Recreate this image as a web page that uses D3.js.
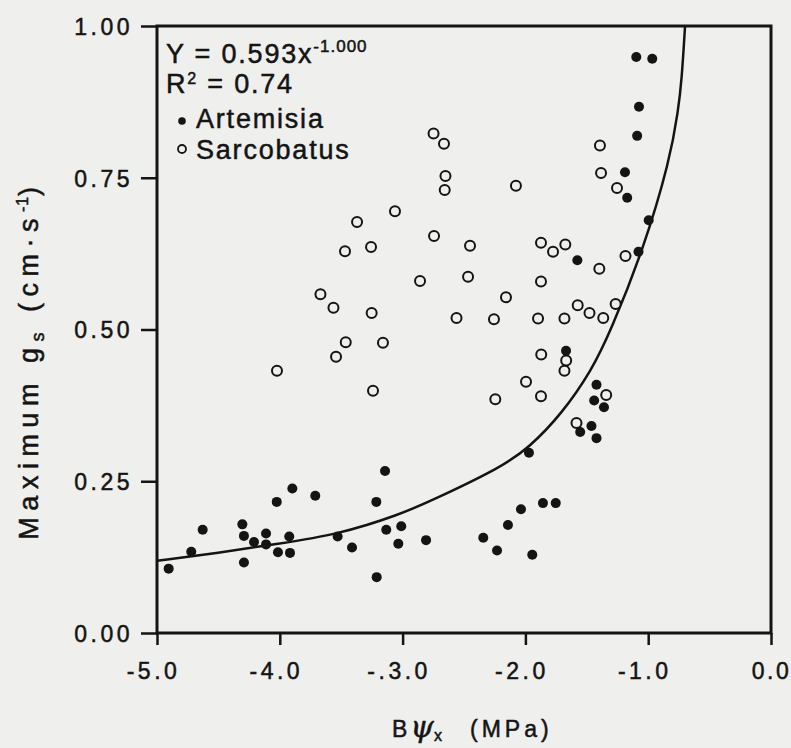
<!DOCTYPE html>
<html>
<head>
<meta charset="utf-8">
<script src="https://cdn.jsdelivr.net/npm/d3@7"></script>
<style>
  body { margin: 0; background: #efefed; }
  svg { display: block; font-family: "Liberation Sans", Arial, Helvetica, sans-serif; }
</style>
</head>
<body>
<div id="chart"></div>
<script>
// Artemisia (filled dots)
var artemisiaX = [-1.097, -0.967, -1.075, -1.090, -1.189, -1.171, -0.996, -1.079, -1.577, -1.669,
  -1.421, -1.440, -1.360, -1.462, -1.554, -1.421, -1.971, -2.036, -1.857, -1.753,
  -2.142, -2.343, -2.231, -1.944, -4.905, -4.721, -4.628, -4.305, -4.292, -4.292,
  -4.210, -4.112, -4.112, -4.025, -4.015, -3.923, -3.917, -3.898, -3.711, -3.529,
  -3.412, -3.214, -3.143, -3.133, -3.011, -3.035, -3.211, -2.809];
var artemisiaY = [0.949, 0.946, 0.867, 0.819, 0.759, 0.717, 0.680, 0.628, 0.614, 0.465,
  0.409, 0.383, 0.372, 0.341, 0.331, 0.321, 0.297, 0.204, 0.214, 0.214,
  0.178, 0.157, 0.136, 0.129, 0.106, 0.134, 0.170, 0.179, 0.160, 0.116,
  0.150, 0.164, 0.146, 0.216, 0.133, 0.159, 0.132, 0.238, 0.226, 0.159,
  0.141, 0.216, 0.267, 0.170, 0.176, 0.147, 0.092, 0.153];

// Sarcobatus (open circles)
var sarcobatusX = [-3.062, -3.371, -3.469, -3.257, -2.858, -3.669, -3.563, -3.252, -3.463, -3.160,
  -3.542, -4.023, -3.241, -2.748, -2.663, -2.651, -2.657, -2.077, -1.393, -1.384,
  -1.254, -2.744, -2.451, -2.467, -1.873, -1.775, -1.675, -1.398, -1.185, -1.873,
  -2.158, -2.561, -2.256, -1.897, -1.682, -1.574, -1.478, -1.366, -1.265, -1.871,
  -1.668, -1.682, -1.995, -2.245, -1.873, -1.342, -1.584];
var sarcobatusY = [0.695, 0.677, 0.629, 0.636, 0.580, 0.558, 0.536, 0.527, 0.479, 0.478,
  0.455, 0.432, 0.399, 0.823, 0.806, 0.753, 0.730, 0.737, 0.803, 0.758,
  0.733, 0.654, 0.638, 0.587, 0.643, 0.628, 0.640, 0.600, 0.621, 0.579,
  0.553, 0.519, 0.517, 0.518, 0.518, 0.540, 0.527, 0.519, 0.542, 0.459,
  0.449, 0.432, 0.414, 0.385, 0.390, 0.392, 0.346];

// fitted curve, points
var fitX = [-5.0, -4.5, -4.017, -3.532, -3.021, -2.722, -2.207, -1.971, -1.700, -1.460, -1.311, -1.040, -0.822, -0.755, -0.727, -0.700];
var fitY = [0.119, 0.132, 0.147, 0.162, 0.195, 0.222, 0.272, 0.305, 0.362, 0.433, 0.495, 0.631, 0.780, 0.862, 0.911, 1.0];

var xTicks = [-5, -4, -3, -2, -1, 0];
var xTickLabels = ["-5.0", "-4.0", "-.3.0", "-2.0", "-1.0", "0.0"];
var yTicks = [0, 0.25, 0.5, 0.75, 1];
var yTickLabels = ["0.00", "0.25", "0.50", "0.75", "1.00"];

var w = 791;
var h = 748;
var plotLeft = 157, plotRight = 771, plotTop = 26, plotBottom = 633;
var ink = "#141414";

var svg = d3.select("#chart")
  .append("svg")
  .attr("width", w)
  .attr("height", h);

var xScale = d3.scaleLinear().domain([-5, 0]).range([plotLeft, plotRight]);
var yScale = d3.scaleLinear().domain([0, 1]).range([plotBottom, plotTop]);

svg.append("defs").append("clipPath")
  .attr("id", "plotclip")
  .append("rect")
  .attr("x", plotLeft).attr("y", plotTop)
  .attr("width", plotRight - plotLeft).attr("height", plotBottom - plotTop);

// axes
var xAxis = svg.append("g")
  .attr("transform", "translate(0," + plotBottom + ")")
  .call(d3.axisBottom(xScale)
    .tickValues(xTicks)
    .tickFormat(function(d, i) { return xTickLabels[i]; })
    .tickSize(12)
    .tickPadding(18)
    .tickSizeOuter(0));

var yAxis = svg.append("g")
  .attr("transform", "translate(" + plotLeft + ",0)")
  .call(d3.axisLeft(yScale)
    .tickValues(yTicks)
    .tickFormat(function(d, i) { return yTickLabels[i]; })
    .tickSize(16)
    .tickPadding(8)
    .tickSizeOuter(0));

[xAxis, yAxis].forEach(function(g) {
  g.select(".domain").remove();
  g.selectAll(".tick line").attr("stroke", ink).attr("stroke-width", 2.5);
  g.selectAll(".tick text")
    .attr("fill", ink)
    .attr("font-size", "23px")
    .style("letter-spacing", "3.5px")
    .attr("stroke", ink)
    .attr("stroke-width", 0.5);
});
yAxis.selectAll(".tick text").attr("dy", "0.36em");
// minus sign hangs left of the centred number; last label sits against the edge
xAxis.selectAll(".tick text")
  .attr("dx", function(d, i) { return xTickLabels[i].charAt(0) === "-" ? -4 : 0; })
  .style("letter-spacing", function(d, i) { return i === xTicks.length - 1 ? "2.5px" : "3.5px"; });

// frame
svg.append("rect")
  .attr("x", plotLeft).attr("y", plotTop)
  .attr("width", plotRight - plotLeft).attr("height", plotBottom - plotTop)
  .attr("fill", "none")
  .attr("stroke", ink)
  .attr("stroke-width", 3);

// fitted curve
var line = d3.line()
  .x(function(d) { return xScale(d[0]); })
  .y(function(d) { return yScale(d[1]); })
  .curve(d3.curveBasis);

svg.append("path")
  .datum(d3.zip(fitX, fitY))
  .attr("clip-path", "url(#plotclip)")
  .attr("fill", "none")
  .attr("stroke", ink)
  .attr("stroke-width", 2.5)
  .attr("d", line);

// points
svg.append("g").selectAll("circle")
  .data(d3.zip(sarcobatusX, sarcobatusY))
  .enter()
  .append("circle")
  .attr("cx", function(d) { return xScale(d[0]); })
  .attr("cy", function(d) { return yScale(d[1]); })
  .attr("r", 5)
  .attr("fill", "#efefed")
  .attr("stroke", ink)
  .attr("stroke-width", 2);

svg.append("g").selectAll("circle")
  .data(d3.zip(artemisiaX, artemisiaY))
  .enter()
  .append("circle")
  .attr("cx", function(d) { return xScale(d[0]); })
  .attr("cy", function(d) { return yScale(d[1]); })
  .attr("r", 5)
  .attr("fill", ink);

// equation and legend
var legend = svg.append("g")
  .attr("fill", ink)
  .attr("stroke", ink)
  .attr("stroke-width", 0.5)
  .attr("font-size", "27px")
  .style("letter-spacing", "1.8px");

var eq = legend.append("text").attr("x", 166).attr("y", 63);
eq.append("tspan").text("Y = 0.593x");
eq.append("tspan").attr("dy", -11).attr("font-size", "17px").style("letter-spacing", "1px").text("-1.000");

var r2 = legend.append("text").attr("x", 166).attr("y", 93);
r2.append("tspan").text("R");
r2.append("tspan").attr("dy", -9).attr("font-size", "16px").text("2");
r2.append("tspan").attr("dy", 9).text(" = 0.74");

legend.append("circle")
  .attr("cx", 182).attr("cy", 121).attr("r", 3.8)
  .attr("stroke", "none");
legend.append("text").attr("x", 196).attr("y", 128).text("Artemisia");

legend.append("circle")
  .attr("cx", 182).attr("cy", 149).attr("r", 4)
  .attr("fill", "none")
  .attr("stroke-width", 1.8);
legend.append("text").attr("x", 196).attr("y", 159).text("Sarcobatus");

// x-axis label
var xl = svg.append("text")
  .attr("x", 392)
  .attr("y", 737)
  .attr("fill", ink)
  .attr("stroke", ink)
  .attr("stroke-width", 0.5)
  .attr("font-size", "23px")
  .style("letter-spacing", "3px");
xl.append("tspan").text("B");
xl.append("tspan").attr("font-style", "italic").attr("font-size", "30px")
  .attr("font-family", "DejaVu Serif, serif").style("letter-spacing", "0px").text("\u03C8");
xl.append("tspan").attr("dy", 4).attr("font-size", "16px").text("x");
xl.append("tspan").attr("x", 470).attr("dy", -4).style("letter-spacing", "4px").text("(MPa)");

// y-axis label
var yl = svg.append("text")
  .attr("transform", "translate(38," + 360 + ") rotate(-90)")
  .attr("text-anchor", "middle")
  .attr("fill", ink)
  .attr("stroke", ink)
  .attr("stroke-width", 0.5)
  .attr("font-size", "27px")
  .style("letter-spacing", "6.5px");
yl.append("tspan").text("Maximum g");
yl.append("tspan").attr("dy", 6).attr("font-size", "18px").text("s");
yl.append("tspan").attr("dy", -6).text(" (cm\u00B7s");
yl.append("tspan").attr("dy", -10).attr("font-size", "16px").style("letter-spacing", "1px").text("-1");
yl.append("tspan").attr("dy", 10).text(")");
</script>
</body>
</html>
